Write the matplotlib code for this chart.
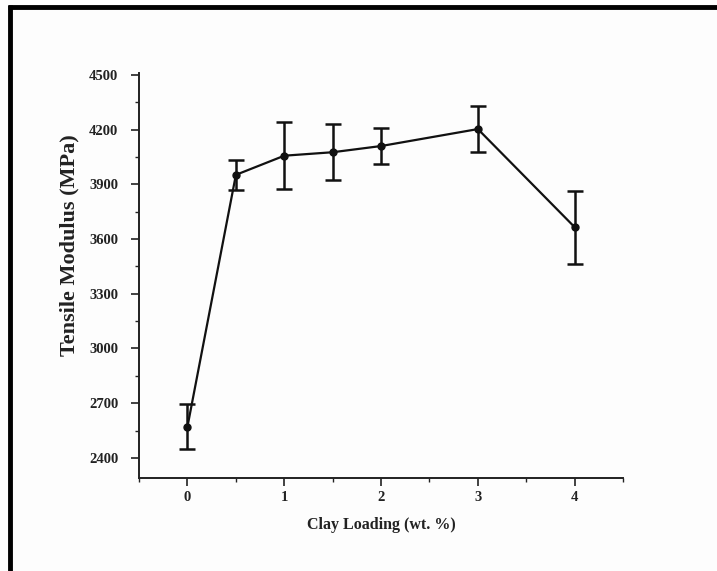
import matplotlib
matplotlib.use("Agg")
import matplotlib.pyplot as plt
from matplotlib.ticker import MultipleLocator
from matplotlib.lines import Line2D

clay_loading = [0, 0.5, 1, 1.5, 2, 3, 4]
modulus = [2572, 3952, 4057, 4076, 4110, 4203, 3665]
modulus_err = [125, 82, 184, 155, 98, 127, 201]

x_ticks = [0, 1, 2, 3, 4]
y_ticks = [2400, 2700, 3000, 3300, 3600, 3900, 4200, 4500]

plt.rcParams['font.family'] = ['Liberation Serif', 'DejaVu Serif']
plt.rcParams['font.weight'] = 'bold'

fig = plt.figure(figsize=(7.17, 5.71), dpi=100)
fig.patch.set_facecolor('#fdfdfd')
ax = fig.add_axes([0.194, 0.163, 0.675, 0.709])
ax.set_facecolor('#fdfdfd')

ax.errorbar(clay_loading, modulus, yerr=modulus_err, color='#111111',
            linewidth=1.6, marker='o', markersize=5, capsize=5.5,
            elinewidth=1.8, capthick=1.8)

ax.set_xlim(-0.5, 4.5)
ax.set_ylim(2290, 4510)
ax.set_xticks(x_ticks)
ax.set_yticks(y_ticks)
ax.xaxis.set_minor_locator(MultipleLocator(0.5))
ax.yaxis.set_minor_locator(MultipleLocator(150))

for side in ['top', 'right']:
    ax.spines[side].set_visible(False)
for side in ['left', 'bottom']:
    ax.spines[side].set_linewidth(1.4)
    ax.spines[side].set_color('#222222')

ax.tick_params(which='major', direction='out', length=6, width=1.2,
               labelsize=10.5, colors='#222222')
ax.tick_params(axis='y', which='major', pad=9)
ax.tick_params(which='minor', direction='out', length=3, width=1.0,
               colors='#222222')
for lbl in ax.get_xticklabels() + ax.get_yticklabels():
    lbl.set_fontweight('bold')

ax.set_xlabel('Clay Loading (wt. %)', fontsize=11.5, fontweight='bold',
              labelpad=9, color='#222222')
ax.set_ylabel('Tensile Modulus (MPa)', fontsize=16, fontweight='bold',
              color='#222222')
ax.yaxis.set_label_coords(-0.124, 0.575)

# outer frame (top and left edges visible)
fig.add_artist(Line2D([0.011, 1.0], [0.988, 0.988], transform=fig.transFigure,
                      color='black', linewidth=3.5, solid_capstyle='butt'))
fig.add_artist(Line2D([0.014, 0.014], [0.0, 0.991], transform=fig.transFigure,
                      color='black', linewidth=3.5, solid_capstyle='butt'))

fig.savefig('out.png', dpi=100, facecolor=fig.get_facecolor())
